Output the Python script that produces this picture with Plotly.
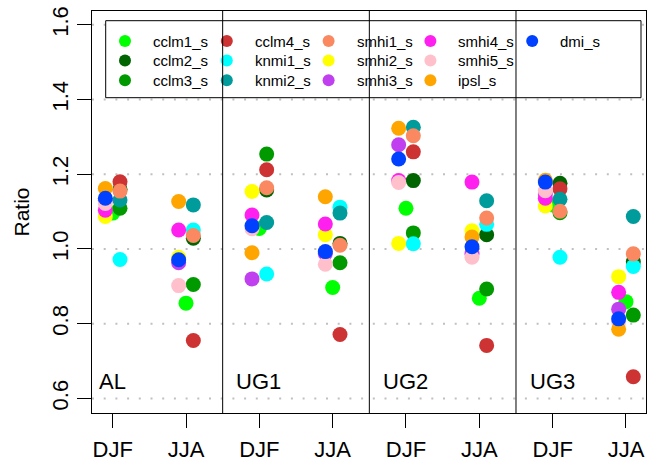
import plotly.graph_objects as go

# Categories
regions = ["AL", "UG1", "UG2", "UG3"]
seasons = ["DJF", "JJA"]
tick_labels = ["DJF", "JJA", "DJF", "JJA", "DJF", "JJA", "DJF", "JJA"]
y_ticks = [0.6, 0.8, 1.0, 1.2, 1.4, 1.6]

# Model names (legend order) and colours
models = ["cclm1_s", "cclm2_s", "cclm3_s", "cclm4_s", "knmi1_s", "knmi2_s",
          "smhi1_s", "smhi2_s", "smhi3_s", "smhi4_s", "smhi5_s", "ipsl_s", "dmi_s"]
colors = ["#00FF00", "#006400", "#009A00", "#CD3333", "#00FFFF", "#009B9B",
          "#FA8860", "#FFFF00", "#C040F0", "#FF20F0", "#FFC0CB", "#FFA500", "#0040FF"]
# horizontal dodge group of each model within a season column (-1 left, 0 centre, +1 right)
dodge = [0, 1, 1, 1, 1, 1, 1, -1, -1, -1, -1, -1, -1]

# Ratios: AL DJF, AL JJA, UG1 DJF, UG1 JJA, UG2 DJF, UG2 JJA, UG3 DJF, UG3 JJA
cclm1_s = [1.096, 0.855, 1.055, 0.897, 1.109, 0.868, 1.118, 0.859]
cclm2_s = [1.160, 1.029, 1.158, 1.015, 1.183, 1.038, 1.176, 0.966]
cclm3_s = [1.109, 0.905, 1.254, 0.963, 1.043, 0.893, 1.097, 0.823]
cclm4_s = [1.180, 0.755, 1.212, 0.771, 1.260, 0.742, 1.161, 0.658]
knmi1_s = [0.972, 1.051, 0.933, 1.112, 1.014, 1.066, 0.978, 0.953]
knmi2_s = [1.131, 1.118, 1.071, 1.096, 1.326, 1.129, 1.133, 1.087]
smhi1_s = [1.155, 1.036, 1.164, 1.010, 1.303, 1.083, 1.101, 0.987]
smhi2_s = [1.087, 0.978, 1.154, 1.038, 1.015, 1.049, 1.115, 0.926]
smhi3_s = [1.130, 0.963, 0.920, 0.988, 1.279, 0.988, 1.147, 0.839]
smhi4_s = [1.104, 1.051, 1.091, 1.067, 1.183, 1.179, 1.136, 0.884]
smhi5_s = [1.122, 0.902, 1.054, 0.959, 1.178, 0.978, 1.156, 0.805]
ipsl_s = [1.162, 1.127, 0.990, 1.140, 1.323, 1.032, 1.184, 0.785]
dmi_s = [1.136, 0.971, 1.062, 0.993, 1.241, 1.006, 1.179, 0.813]

values = [cclm1_s, cclm2_s, cclm3_s, cclm4_s, knmi1_s, knmi2_s, smhi1_s,
          smhi2_s, smhi3_s, smhi4_s, smhi5_s, ipsl_s, dmi_s]

FONT = "Liberation Sans, Arial, Helvetica, sans-serif"

# ---- geometry ----
W_FIG, H_FIG = 648, 463
M_L, M_R, M_T, M_B = 92, 2, 11, 50
X_RANGE = [0.718, 8.273]
Y_RANGE = [0.561, 1.637]
PW = W_FIG - M_L - M_R
PH = H_FIG - M_T - M_B


def px_to_x(px):
    return X_RANGE[0] + (px - M_L) / PW * (X_RANGE[1] - X_RANGE[0])


def py_to_y(py):
    return Y_RANGE[1] - (py - M_T) / PH * (Y_RANGE[1] - Y_RANGE[0])


positions = list(range(1, len(tick_labels) + 1))
dodge_width = 0.1

fig = go.Figure()
for i, name in enumerate(models):
    fig.add_trace(go.Scatter(
        x=[p + dodge[i] * dodge_width for p in positions],
        y=values[i],
        mode="markers",
        name=name,
        marker=dict(color=colors[i], size=15, line=dict(width=0)),
        showlegend=False,
    ))

# ---- manual legend (3 rows, column-major) ----
LEG_ROWS = 3
LEG_X0, LEG_COLW = 125.0, 101.8
LEG_Y0, LEG_ROWH = 41.0, 19.6
LEG_TXT_DX = 26.0
leg_x, leg_y = [], []
annotations = []
for i, name in enumerate(models):
    col, row = divmod(i, LEG_ROWS)
    mx = LEG_X0 + col * LEG_COLW
    my = LEG_Y0 + row * LEG_ROWH
    leg_x.append(px_to_x(mx))
    leg_y.append(py_to_y(my))
    annotations.append(dict(x=px_to_x(mx + LEG_TXT_DX), y=py_to_y(my), xref="x", yref="y",
                            text=name, showarrow=False, xanchor="left", yanchor="middle",
                            font=dict(family=FONT, size=15, color="black")))
fig.add_trace(go.Scatter(x=leg_x, y=leg_y, mode="markers", showlegend=False,
                         hoverinfo="skip",
                         marker=dict(color=colors, size=12, line=dict(width=0))))

shapes = []
# dotted horizontal grid
for v in y_ticks:
    shapes.append(dict(type="line", xref="paper", yref="y", x0=0, x1=1, y0=v, y1=v,
                       line=dict(color="#C0C0C0", width=2, dash="2px,9.7px"), layer="below"))
# legend box (drawn over the grid)
shapes.append(dict(type="rect", xref="paper", yref="paper",
                   x0=(105.7 - M_L) / PW, x1=(641 - M_L) / PW,
                   y0=(H_FIG - M_B - 97.7) / PH, y1=(H_FIG - M_B - 20.7) / PH,
                   fillcolor="white", line=dict(color="black", width=1), layer="below"))
# panel separators
for k in range(1, len(regions)):
    xs = 2 * k + 0.5
    shapes.append(dict(type="line", xref="x", yref="paper", x0=xs, x1=xs, y0=0, y1=1,
                       line=dict(color="black", width=1), layer="above"))

label_x = [0.79, 2.66, 4.66, 6.66]
for k, reg in enumerate(regions):
    annotations.append(dict(x=label_x[k], y=0.6466, xref="x", yref="y", text=reg,
                            showarrow=False, xanchor="left", yanchor="middle",
                            font=dict(family=FONT, size=22, color="black")))

fig.update_layout(
    width=W_FIG, height=H_FIG,
    margin=dict(l=M_L, r=M_R, t=M_T, b=M_B),
    plot_bgcolor="white", paper_bgcolor="white",
    shapes=shapes, annotations=annotations,
    font=dict(family=FONT, color="black"),
    showlegend=False,
    xaxis=dict(range=X_RANGE, tickvals=positions, ticktext=tick_labels,
               ticks="outside", ticklen=14, tickwidth=1, tickcolor="black",
               ticklabelstandoff=3,
               showgrid=False, zeroline=False, showline=True, mirror=True,
               linecolor="black", linewidth=1,
               tickfont=dict(family=FONT, size=22, color="black")),
    yaxis=dict(range=Y_RANGE, tickvals=y_ticks,
               ticktext=["%.1f" % v for v in y_ticks],
               ticks="outside", ticklen=14, tickwidth=1, tickcolor="black",
               tickangle=-90,
               showgrid=False, zeroline=False, showline=True, mirror=True,
               linecolor="black", linewidth=1,
               tickfont=dict(family=FONT, size=22, color="black"),
               title=dict(text="Ratio", font=dict(family=FONT, size=21, color="black"),
                          standoff=12)),
)

fig.write_html("out.html")
